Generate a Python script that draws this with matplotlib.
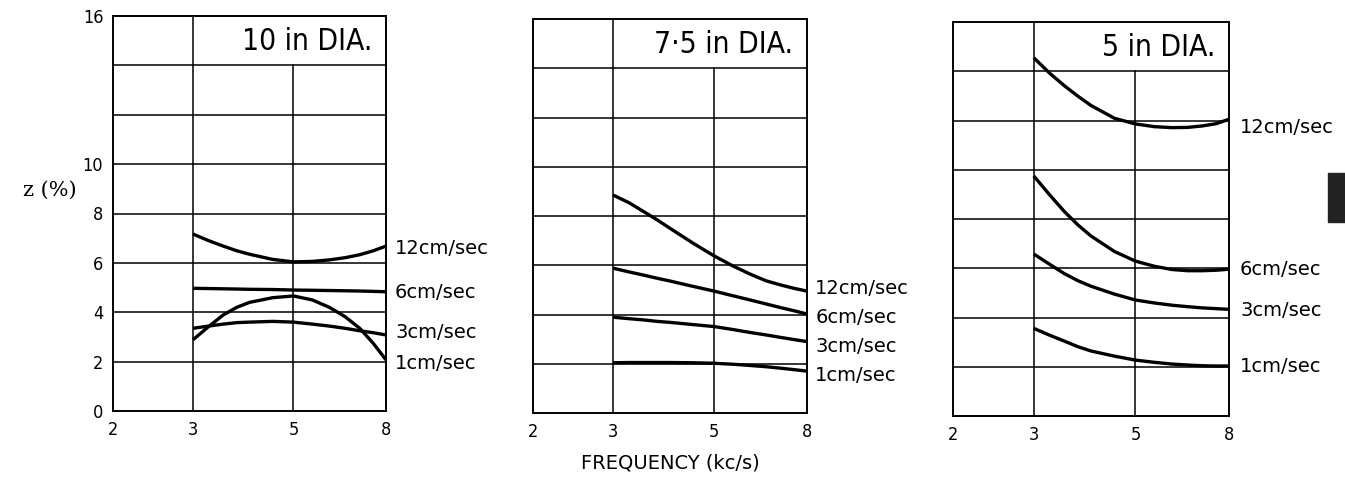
# ============================================
# Z (%) vs FREQUENCY - three diameters
# ============================================

import numpy as np
import matplotlib.pyplot as plt
from matplotlib.patches import Rectangle

# --------------------------------------------
# Data
# --------------------------------------------

freq = [3, 3.25, 3.5, 3.75, 4, 4.5, 5, 5.5, 6, 6.5, 7, 7.5, 8]
speeds = ["12cm/sec", "6cm/sec", "3cm/sec", "1cm/sec"]
x_ticks = [2, 3, 5, 8]
y_ticks = [0, 2, 4, 6, 8, 10, 16]

dia_10_12 = [7.17, 6.90, 6.68, 6.49, 6.35, 6.14, 6.04, 6.06, 6.12, 6.21, 6.33, 6.49, 6.68]
dia_10_6 = [4.97, 4.96, 4.95, 4.94, 4.93, 4.92, 4.90, 4.89, 4.88, 4.87, 4.86, 4.845, 4.83]
dia_10_3 = [3.35, 3.44, 3.52, 3.58, 3.60, 3.63, 3.60, 3.52, 3.44, 3.35, 3.25, 3.17, 3.08]
dia_10_1 = [2.88, 3.42, 3.89, 4.20, 4.40, 4.59, 4.66, 4.50, 4.20, 3.82, 3.35, 2.74, 2.07]

dia_75_12 = [8.85, 8.54, 8.18, 7.84, 7.50, 6.89, 6.38, 5.97, 5.64, 5.37, 5.20, 5.06, 4.95]
dia_75_6 = [5.88, 5.73, 5.60, 5.47, 5.36, 5.14, 4.95, 4.76, 4.59, 4.43, 4.28, 4.15, 4.02]
dia_75_3 = [3.89, 3.83, 3.78, 3.72, 3.68, 3.59, 3.51, 3.39, 3.27, 3.17, 3.07, 2.98, 2.90]
dia_75_1 = [2.04, 2.05, 2.05, 2.05, 2.05, 2.04, 2.02, 1.98, 1.93, 1.88, 1.82, 1.76, 1.70]

dia_5_12 = [14.55, 13.92, 13.41, 12.98, 12.61, 12.09, 11.86, 11.75, 11.71, 11.72, 11.78, 11.87, 12.05]
dia_5_6 = [9.75, 8.98, 8.30, 7.75, 7.31, 6.68, 6.29, 6.08, 5.95, 5.90, 5.90, 5.92, 5.96]
dia_5_3 = [6.58, 6.16, 5.78, 5.49, 5.27, 4.95, 4.71, 4.59, 4.50, 4.44, 4.39, 4.36, 4.33]
dia_5_1 = [3.56, 3.28, 3.04, 2.81, 2.64, 2.43, 2.27, 2.18, 2.11, 2.07, 2.04, 2.03, 2.03]

titles = ["10 in DIA.", "7\u00b75 in DIA.", "5 in DIA."]
curves = [
    [dia_10_12, dia_10_6, dia_10_3, dia_10_1],
    [dia_75_12, dia_75_6, dia_75_3, dia_75_1],
    [dia_5_12, dia_5_6, dia_5_3, dia_5_1],
]
# y of the speed labels at the right of each panel
label_y = [
    [6.6, 4.82, 3.16, 1.94],
    [5.04, 3.86, 2.72, 1.54],
    [11.7, 5.93, 4.27, 2.03],
]

# --------------------------------------------
# Figure
# --------------------------------------------

W, H = 1345, 478
fig = plt.figure(figsize=(W / 100, H / 100), dpi=100)
fig.patch.set_facecolor("white")

# panel boxes in pixels: left, bottom, right, top (from image top)
boxes = [(113, 411, 386, 16), (533, 413, 807, 19), (953, 416, 1229, 22)]
label_x = [1.033, 1.03, 1.04]

font = dict(family="DejaVu Sans", stretch="condensed")

for i, (l, b, r, t) in enumerate(boxes):
    ax = fig.add_axes([l / W, 1 - b / H, (r - l) / W, (b - t) / H])
    ax.set_xscale("log")
    ax.set_xlim(2, 8)
    ax.set_ylim(0, 16)

    # grid
    for yv in range(2, 16, 2):
        ax.axhline(yv, color="black", lw=1.1, zorder=1)
    ax.axvline(3, color="black", lw=1.1, zorder=1)
    ax.axvline(5, ymin=0, ymax=14 / 16, color="black", lw=1.1, zorder=1)

    for s in ax.spines.values():
        s.set_linewidth(1.4)

    for yv in curves[i]:
        ax.plot(freq, yv, color="black", lw=2.4, solid_capstyle="butt",
                solid_joinstyle="round", zorder=3)

    for name, ly in zip(speeds, label_y[i]):
        ax.text(label_x[i], ly, name, transform=ax.get_yaxis_transform(),
                ha="left", va="center", fontsize=14, clip_on=False,
                family="DejaVu Sans")

    ax.text(0.95, 14.95, titles[i], transform=ax.get_yaxis_transform(),
            ha="right", va="center", fontsize=21.5, **font)

    ax.minorticks_off()
    ax.set_xticks(x_ticks)
    ax.set_xticklabels([str(v) for v in x_ticks], fontsize=13, **font)
    ax.tick_params(length=0, pad=7)
    if i == 0:
        ax.set_yticks(y_ticks)
        ax.set_yticklabels([str(v) for v in y_ticks], fontsize=13, **font)
    else:
        ax.set_yticks([])

# axis labels
fig.text(50 / W, 1 - 190 / H, "z (%)", ha="center", va="center",
         fontsize=15, family="DejaVu Serif")
fig.text(670 / W, 1 - 463 / H, "FREQUENCY (kc/s)", ha="center", va="center",
         fontsize=14, family="DejaVu Sans")

# dark mark at the right edge of the page
fig.patches.append(Rectangle((1328 / W, 1 - 222 / H), 17 / W, 49 / H,
                             transform=fig.transFigure, color="#222222"))

plt.savefig("out.png", dpi=100)
plt.close()
